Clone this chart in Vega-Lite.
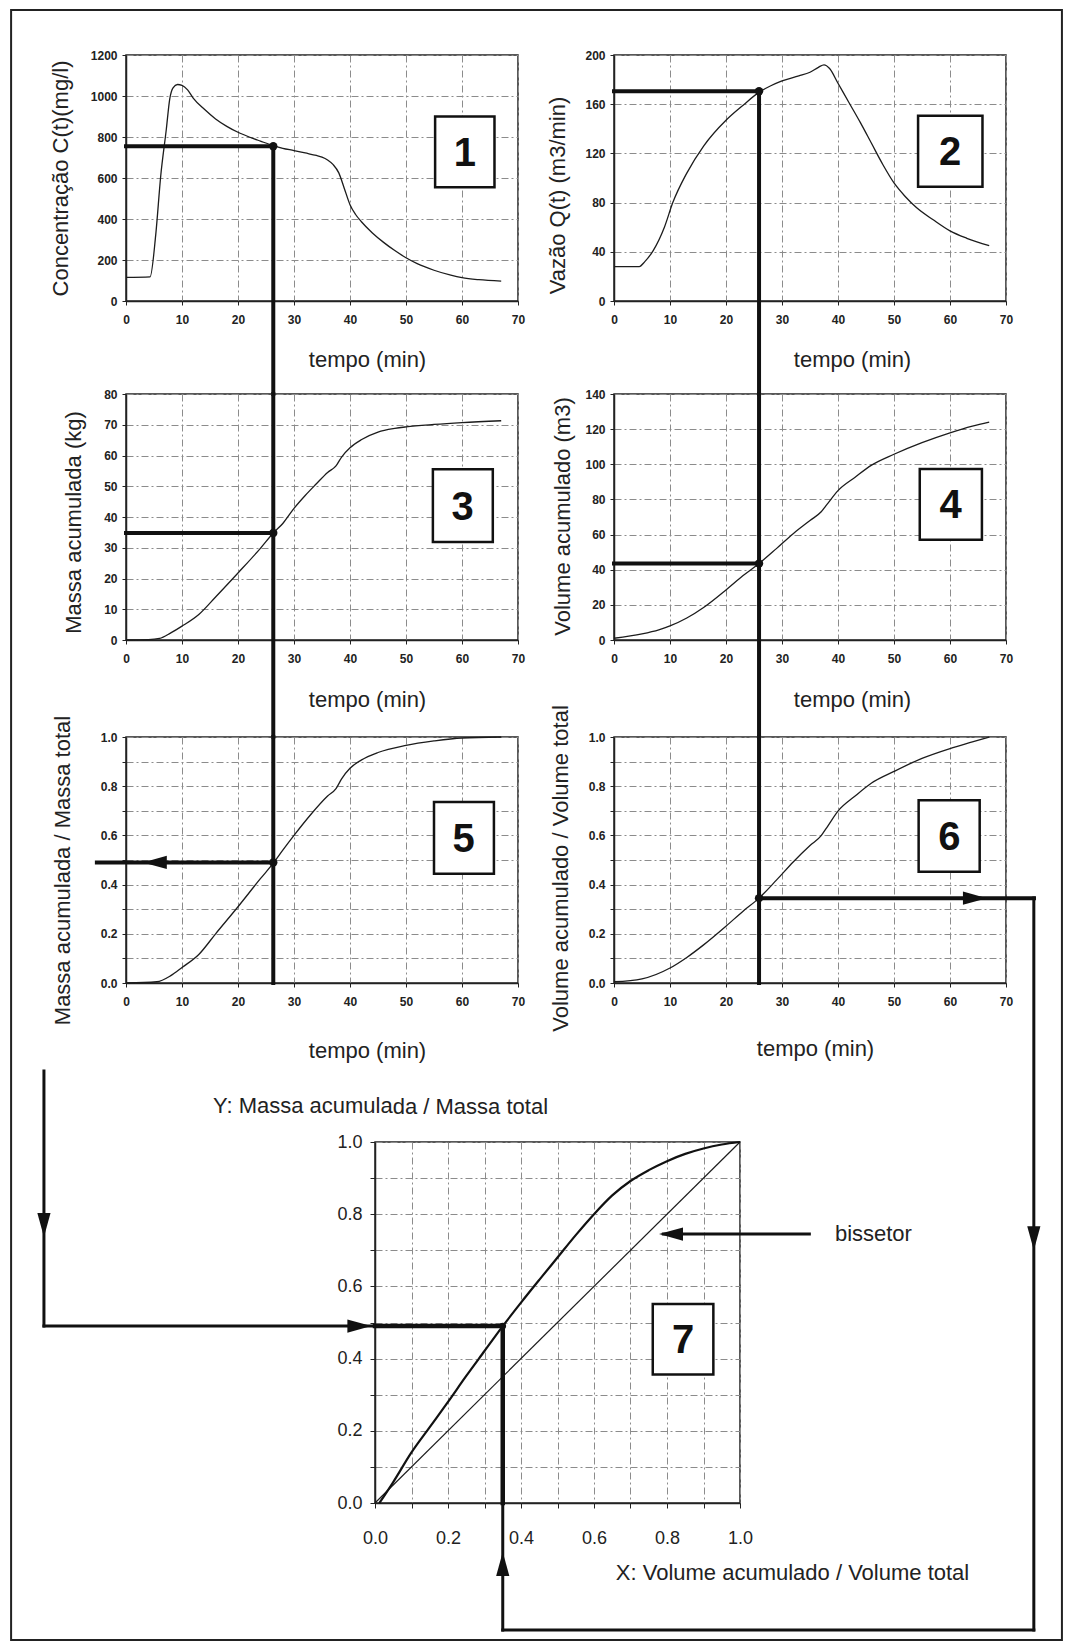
{
  "$schema": "https://vega.github.io/schema/vega-lite/v6.json",
  "background": "white",
  "padding": {"left": 9, "top": 8, "right": 0, "bottom": 0},
  "datasets": {
    "conc": [
      {"x": 0, "y": 115}, {"x": 4.3, "y": 118}, {"x": 5.3, "y": 320}, {"x": 6.2, "y": 610}, {"x": 7.2, "y": 838},
      {"x": 7.8, "y": 984}, {"x": 8.4, "y": 1040}, {"x": 9.2, "y": 1056}, {"x": 10, "y": 1052}, {"x": 11, "y": 1030},
      {"x": 12, "y": 990}, {"x": 14, "y": 935}, {"x": 16, "y": 888}, {"x": 18, "y": 852}, {"x": 20, "y": 823},
      {"x": 22, "y": 800}, {"x": 24, "y": 780}, {"x": 26.3, "y": 758}, {"x": 28, "y": 745}, {"x": 30, "y": 734},
      {"x": 32, "y": 722}, {"x": 34, "y": 710}, {"x": 35, "y": 702}, {"x": 36, "y": 688}, {"x": 37, "y": 665},
      {"x": 38, "y": 625}, {"x": 39, "y": 548}, {"x": 40, "y": 470}, {"x": 41, "y": 422}, {"x": 42, "y": 388},
      {"x": 44, "y": 332}, {"x": 46, "y": 286}, {"x": 48, "y": 246}, {"x": 50, "y": 211}, {"x": 52, "y": 182},
      {"x": 55, "y": 150}, {"x": 58, "y": 126}, {"x": 60, "y": 114}, {"x": 63, "y": 104}, {"x": 67, "y": 97}
    ],
    "vazao": [
      {"x": 0, "y": 28}, {"x": 4.5, "y": 28}, {"x": 5.5, "y": 32}, {"x": 7, "y": 41}, {"x": 9, "y": 60},
      {"x": 10.5, "y": 80}, {"x": 13, "y": 104}, {"x": 16, "y": 126}, {"x": 20, "y": 147}, {"x": 23, "y": 159},
      {"x": 26, "y": 170}, {"x": 28, "y": 175}, {"x": 30, "y": 179}, {"x": 33, "y": 183}, {"x": 35, "y": 186},
      {"x": 36.5, "y": 190}, {"x": 37.5, "y": 192}, {"x": 38.5, "y": 189}, {"x": 40, "y": 177}, {"x": 42, "y": 161},
      {"x": 44, "y": 145}, {"x": 46, "y": 128}, {"x": 48, "y": 111}, {"x": 50, "y": 96}, {"x": 52, "y": 85},
      {"x": 54, "y": 76}, {"x": 57, "y": 66}, {"x": 60, "y": 57}, {"x": 63, "y": 51}, {"x": 67, "y": 45}
    ],
    "massa": [
      {"x": 0, "y": 0}, {"x": 4, "y": 0.1}, {"x": 6, "y": 0.5}, {"x": 8, "y": 2.3}, {"x": 10, "y": 4.5},
      {"x": 13, "y": 8.3}, {"x": 16, "y": 14}, {"x": 20, "y": 21.8}, {"x": 24, "y": 29.8}, {"x": 26.3, "y": 34.8},
      {"x": 28, "y": 37.9}, {"x": 30, "y": 42.8}, {"x": 32, "y": 47}, {"x": 34, "y": 50.8}, {"x": 36, "y": 54.5},
      {"x": 37.5, "y": 56.6}, {"x": 38.5, "y": 59.5}, {"x": 40, "y": 62.5}, {"x": 42, "y": 65.1}, {"x": 45, "y": 67.6},
      {"x": 48, "y": 68.8}, {"x": 50, "y": 69.3}, {"x": 55, "y": 70.1}, {"x": 60, "y": 70.7}, {"x": 67, "y": 71.3}
    ],
    "volume": [
      {"x": 0, "y": 1}, {"x": 5, "y": 3.5}, {"x": 8, "y": 5.8}, {"x": 10, "y": 8}, {"x": 13, "y": 12.5},
      {"x": 16, "y": 18.5}, {"x": 20, "y": 28.5}, {"x": 23, "y": 36.5}, {"x": 25.9, "y": 43.5}, {"x": 29, "y": 52},
      {"x": 32, "y": 60.5}, {"x": 35, "y": 68}, {"x": 37, "y": 73}, {"x": 38, "y": 77}, {"x": 40, "y": 85},
      {"x": 43, "y": 92.5}, {"x": 46, "y": 99.5}, {"x": 50, "y": 105.7}, {"x": 55, "y": 112.3}, {"x": 60, "y": 117.9},
      {"x": 64, "y": 121.7}, {"x": 67, "y": 124}
    ],
    "massaRel": [
      {"x": 0, "y": 0}, {"x": 5.5, "y": 0.005}, {"x": 8, "y": 0.03}, {"x": 10, "y": 0.063}, {"x": 13, "y": 0.116},
      {"x": 16, "y": 0.2}, {"x": 20, "y": 0.31}, {"x": 24, "y": 0.424}, {"x": 26.3, "y": 0.487}, {"x": 28, "y": 0.54},
      {"x": 30, "y": 0.6}, {"x": 33, "y": 0.685}, {"x": 36, "y": 0.76}, {"x": 37.5, "y": 0.79}, {"x": 38.5, "y": 0.83},
      {"x": 40, "y": 0.873}, {"x": 42, "y": 0.906}, {"x": 45, "y": 0.937}, {"x": 50, "y": 0.966}, {"x": 55, "y": 0.984},
      {"x": 60, "y": 0.996}, {"x": 67, "y": 1.0}
    ],
    "volumeRel": [
      {"x": 0, "y": 0.005}, {"x": 5, "y": 0.017}, {"x": 10, "y": 0.061}, {"x": 13, "y": 0.104}, {"x": 16, "y": 0.155},
      {"x": 20, "y": 0.231}, {"x": 23, "y": 0.291}, {"x": 25.9, "y": 0.345}, {"x": 29, "y": 0.418}, {"x": 32, "y": 0.492},
      {"x": 35, "y": 0.559}, {"x": 37, "y": 0.599}, {"x": 38, "y": 0.632}, {"x": 40, "y": 0.699}, {"x": 43, "y": 0.759},
      {"x": 46, "y": 0.813}, {"x": 50, "y": 0.86}, {"x": 55, "y": 0.913}, {"x": 60, "y": 0.953}, {"x": 64, "y": 0.98},
      {"x": 67, "y": 1.0}
    ],
    "curvaMV": [
      {"x": 0.012, "y": 0}, {"x": 0.05, "y": 0.058}, {"x": 0.1, "y": 0.14}, {"x": 0.15, "y": 0.21}, {"x": 0.2, "y": 0.28},
      {"x": 0.25, "y": 0.352}, {"x": 0.3, "y": 0.421}, {"x": 0.35, "y": 0.49}, {"x": 0.4, "y": 0.555}, {"x": 0.45, "y": 0.618},
      {"x": 0.5, "y": 0.68}, {"x": 0.55, "y": 0.742}, {"x": 0.6, "y": 0.8}, {"x": 0.65, "y": 0.852}, {"x": 0.7, "y": 0.892},
      {"x": 0.75, "y": 0.922}, {"x": 0.8, "y": 0.947}, {"x": 0.85, "y": 0.967}, {"x": 0.9, "y": 0.982}, {"x": 0.95, "y": 0.993},
      {"x": 1.0, "y": 1.0}
    ],
    "bissetriz": [{"x": 0, "y": 0}, {"x": 1, "y": 1}],
    "seg1": [{"x": 0, "y": 755, "x2": 26.3, "y2": 755}, {"x": 26.3, "y": 755, "x2": 26.3, "y2": -454}],
    "seg2": [{"x": 0, "y": 170.5, "x2": 25.9, "y2": 170.5}, {"x": 25.9, "y": 170.5, "x2": 25.9, "y2": -75.6}],
    "seg3": [{"x": 0, "y": 34.8, "x2": 26.3, "y2": 34.8}, {"x": 26.3, "y": 80, "x2": 26.3, "y2": -31.5}],
    "seg4": [{"x": 0, "y": 43.5, "x2": 25.9, "y2": 43.5}, {"x": 25.9, "y": 140, "x2": 25.9, "y2": -55.2}],
    "seg5": [{"x": 26.3, "y": 1, "x2": 26.3, "y2": 0}, {"x": 26.3, "y": 0.49, "x2": -5.2, "y2": 0.49}],
    "seg6": [{"x": 25.9, "y": 1, "x2": 25.9, "y2": 0}, {"x": 25.9, "y": 0.345, "x2": 75, "y2": 0.345}],
    "seg7": [{"x": 0, "y": 0.49, "x2": 0.35, "y2": 0.49}, {"x": 0.35, "y": 0.49, "x2": 0.35, "y2": 0}],
    "via7": [
      {"x": -0.907, "y": 1.197, "x2": -0.907, "y2": 0.49},
      {"x": -0.907, "y": 0.49, "x2": 0, "y2": 0.49},
      {"x": 0.35, "y": 0, "x2": 0.35, "y2": -0.352},
      {"x": 0.35, "y": -0.352, "x2": 1.805, "y2": -0.352},
      {"x": 1.805, "y": -0.352, "x2": 1.805, "y2": 1.6756},
      {"x": 1.19, "y": 0.745, "x2": 0.79, "y2": 0.745}
    ],
    "dot1": [{"x": 26.3, "y": 755}],
    "dot2": [{"x": 25.9, "y": 170.5}],
    "dot3": [{"x": 26.3, "y": 34.8}],
    "dot4": [{"x": 25.9, "y": 43.5}],
    "dot5": [{"x": 26.3, "y": 0.49}],
    "dot6": [{"x": 25.9, "y": 0.345}],
    "dot7": [{"x": 0.35, "y": 0.49}],
    "box1": [{"x": 55.2, "x2": 65.8, "y": 555, "y2": 900, "cx": 60.5, "cy": 727, "label": "1"}],
    "box2": [{"x": 54.3, "x2": 65.8, "y": 92.8, "y2": 150.6, "cx": 60, "cy": 121.7, "label": "2"}],
    "box3": [{"x": 54.8, "x2": 65.5, "y": 31.9, "y2": 55.5, "cx": 60.1, "cy": 43.7, "label": "3"}],
    "box4": [{"x": 54.6, "x2": 65.7, "y": 57.1, "y2": 97.3, "cx": 60.1, "cy": 77.2, "label": "4"}],
    "box5": [{"x": 55, "x2": 65.7, "y": 0.444, "y2": 0.736, "cx": 60.3, "cy": 0.59, "label": "5"}],
    "box6": [{"x": 54.4, "x2": 65.3, "y": 0.452, "y2": 0.743, "cx": 59.9, "cy": 0.598, "label": "6"}],
    "box7": [{"x": 0.761, "x2": 0.927, "y": 0.356, "y2": 0.551, "cx": 0.844, "cy": 0.453, "label": "7"}],
    "ponta5": [{"x": 3.0, "y": 0.49}],
    "ponta6": [{"x": 66.6, "y": 0.345}],
    "ponta7baixo": [{"x": -0.907, "y": 0.737}, {"x": 1.805, "y": 0.70}],
    "ponta7dir": [{"x": -0.01, "y": 0.49}],
    "ponta7cima": [{"x": 0.35, "y": -0.136}],
    "ponta7esq": [{"x": 0.778, "y": 0.745}],
    "nota7": [{"x": 1.26, "y": 0.745, "label": "bissetor"}],
    "moldura": [{"x": -0.997, "x2": 1.882, "y": -0.3795, "y2": 4.136}]
  },
  "columns": 3,
  "align": {"row": "each", "column": "none"},
  "bounds": "flush",
  "spacing": {"row": 93, "column": -143},
  "concat": [
    {
      "width": 392, "height": 246,
      "encoding": {
        "x": {"field": "x", "type": "quantitative", "scale": {"domain": [0, 70], "nice": false, "zero": false},
              "axis": {"values": [0, 10, 20, 30, 40, 50, 60, 70], "title": "tempo (min)", "titleX": 241, "titleY": 58}},
        "y": {"field": "y", "type": "quantitative", "scale": {"domain": [0, 1200], "nice": false, "zero": false},
              "axis": {"values": [0, 200, 400, 600, 800, 1000, 1200], "format": "d", "title": "Concentração C(t)(mg/l)", "titleX": -66, "titleY": 123}}
      },
      "layer": [
        {"data": {"name": "conc"}, "mark": {"type": "line", "color": "#1c1c1c", "strokeWidth": 1.3, "interpolate": "monotone"}},
        {"data": {"name": "seg1"}, "mark": {"type": "rule", "color": "#111", "strokeWidth": 4, "strokeCap": "square", "clip": false},
         "encoding": {"x2": {"field": "x2"}, "y2": {"field": "y2"}}},
        {"data": {"name": "dot1"}, "mark": {"type": "point", "filled": true, "color": "#111", "size": 70, "opacity": 1}},
        {"data": {"name": "box1"}, "mark": {"type": "rect", "fill": "white", "stroke": "#111", "strokeWidth": 2.5},
         "encoding": {"x2": {"field": "x2"}, "y2": {"field": "y2"}}},
        {"data": {"name": "box1"}, "mark": {"type": "text", "font": "Liberation Sans", "fontSize": 40, "fontWeight": "bold", "color": "#111", "align": "center", "baseline": "middle", "dy": 2},
         "encoding": {"x": {"field": "cx", "type": "quantitative"}, "y": {"field": "cy", "type": "quantitative"}, "text": {"field": "label"}}}
      ]
    },
    {"width": 382, "height": 246, "view": {"stroke": null}, "data": {"values": [{}]}, "mark": {"type": "point", "opacity": 0}, "encoding": {}},
    {
      "width": 392, "height": 246,
      "encoding": {
        "x": {"field": "x", "type": "quantitative", "scale": {"domain": [0, 70], "nice": false, "zero": false},
              "axis": {"values": [0, 10, 20, 30, 40, 50, 60, 70], "title": "tempo (min)", "titleX": 238, "titleY": 58}},
        "y": {"field": "y", "type": "quantitative", "scale": {"domain": [0, 200], "nice": false, "zero": false},
              "axis": {"values": [0, 40, 80, 120, 160, 200], "title": "Vazão Q(t) (m3/min)", "titleX": -57, "titleY": 140}}
      },
      "layer": [
        {"data": {"name": "vazao"}, "mark": {"type": "line", "color": "#1c1c1c", "strokeWidth": 1.3, "interpolate": "monotone"}},
        {"data": {"name": "seg2"}, "mark": {"type": "rule", "color": "#111", "strokeWidth": 4, "strokeCap": "square", "clip": false},
         "encoding": {"x2": {"field": "x2"}, "y2": {"field": "y2"}}},
        {"data": {"name": "dot2"}, "mark": {"type": "point", "filled": true, "color": "#111", "size": 70, "opacity": 1}},
        {"data": {"name": "box2"}, "mark": {"type": "rect", "fill": "white", "stroke": "#111", "strokeWidth": 2.5},
         "encoding": {"x2": {"field": "x2"}, "y2": {"field": "y2"}}},
        {"data": {"name": "box2"}, "mark": {"type": "text", "font": "Liberation Sans", "fontSize": 40, "fontWeight": "bold", "color": "#111", "align": "center", "baseline": "middle", "dy": 2},
         "encoding": {"x": {"field": "cx", "type": "quantitative"}, "y": {"field": "cy", "type": "quantitative"}, "text": {"field": "label"}}}
      ]
    },
    {
      "width": 392, "height": 246,
      "encoding": {
        "x": {"field": "x", "type": "quantitative", "scale": {"domain": [0, 70], "nice": false, "zero": false},
              "axis": {"values": [0, 10, 20, 30, 40, 50, 60, 70], "title": "tempo (min)", "titleX": 241, "titleY": 59}},
        "y": {"field": "y", "type": "quantitative", "scale": {"domain": [0, 80], "nice": false, "zero": false},
              "axis": {"values": [0, 10, 20, 30, 40, 50, 60, 70, 80], "title": "Massa acumulada (kg)", "titleX": -53, "titleY": 128}}
      },
      "layer": [
        {"data": {"name": "massa"}, "mark": {"type": "line", "color": "#1c1c1c", "strokeWidth": 1.3, "interpolate": "monotone"}},
        {"data": {"name": "seg3"}, "mark": {"type": "rule", "color": "#111", "strokeWidth": 4, "strokeCap": "square", "clip": false},
         "encoding": {"x2": {"field": "x2"}, "y2": {"field": "y2"}}},
        {"data": {"name": "dot3"}, "mark": {"type": "point", "filled": true, "color": "#111", "size": 70, "opacity": 1}},
        {"data": {"name": "box3"}, "mark": {"type": "rect", "fill": "white", "stroke": "#111", "strokeWidth": 2.5},
         "encoding": {"x2": {"field": "x2"}, "y2": {"field": "y2"}}},
        {"data": {"name": "box3"}, "mark": {"type": "text", "font": "Liberation Sans", "fontSize": 40, "fontWeight": "bold", "color": "#111", "align": "center", "baseline": "middle", "dy": 2},
         "encoding": {"x": {"field": "cx", "type": "quantitative"}, "y": {"field": "cy", "type": "quantitative"}, "text": {"field": "label"}}}
      ]
    },
    {"width": 382, "height": 250, "view": {"stroke": null}, "data": {"values": [{}]}, "mark": {"type": "point", "opacity": 0}, "encoding": {}},
    {
      "width": 392, "height": 246,
      "encoding": {
        "x": {"field": "x", "type": "quantitative", "scale": {"domain": [0, 70], "nice": false, "zero": false},
              "axis": {"values": [0, 10, 20, 30, 40, 50, 60, 70], "title": "tempo (min)", "titleX": 238, "titleY": 59}},
        "y": {"field": "y", "type": "quantitative", "scale": {"domain": [0, 140], "nice": false, "zero": false},
              "axis": {"values": [0, 20, 40, 60, 80, 100, 120, 140], "title": "Volume acumulado (m3)", "titleX": -52, "titleY": 122}}
      },
      "layer": [
        {"data": {"name": "volume"}, "mark": {"type": "line", "color": "#1c1c1c", "strokeWidth": 1.3, "interpolate": "monotone"}},
        {"data": {"name": "seg4"}, "mark": {"type": "rule", "color": "#111", "strokeWidth": 4, "strokeCap": "square", "clip": false},
         "encoding": {"x2": {"field": "x2"}, "y2": {"field": "y2"}}},
        {"data": {"name": "dot4"}, "mark": {"type": "point", "filled": true, "color": "#111", "size": 70, "opacity": 1}},
        {"data": {"name": "box4"}, "mark": {"type": "rect", "fill": "white", "stroke": "#111", "strokeWidth": 2.5},
         "encoding": {"x2": {"field": "x2"}, "y2": {"field": "y2"}}},
        {"data": {"name": "box4"}, "mark": {"type": "text", "font": "Liberation Sans", "fontSize": 40, "fontWeight": "bold", "color": "#111", "align": "center", "baseline": "middle", "dy": 2},
         "encoding": {"x": {"field": "cx", "type": "quantitative"}, "y": {"field": "cy", "type": "quantitative"}, "text": {"field": "label"}}}
      ]
    },
    {
      "width": 392, "height": 246,
      "encoding": {
        "x": {"field": "x", "type": "quantitative", "scale": {"domain": [0, 70], "nice": false, "zero": false},
              "axis": {"values": [0, 10, 20, 30, 40, 50, 60, 70], "title": "tempo (min)", "titleX": 241, "titleY": 67}},
        "y": {"field": "y", "type": "quantitative", "scale": {"domain": [0, 1], "nice": false, "zero": false},
              "axis": {"values": [0, 0.1, 0.2, 0.3, 0.4, 0.5, 0.6, 0.7, 0.8, 0.9, 1.0],
                       "labelExpr": "round(datum.value * 10) % 2 == 0 ? format(datum.value, '.1f') : ''",
                       "title": "Massa acumulada / Massa total", "titleX": -64, "titleY": 133}}
      },
      "layer": [
        {"data": {"name": "massaRel"}, "mark": {"type": "line", "color": "#1c1c1c", "strokeWidth": 1.3, "interpolate": "monotone"}},
        {"data": {"name": "seg5"}, "mark": {"type": "rule", "color": "#111", "strokeWidth": 4, "strokeCap": "square", "clip": false},
         "encoding": {"x2": {"field": "x2"}, "y2": {"field": "y2"}}},
        {"data": {"name": "ponta5"}, "mark": {"type": "point", "filled": true, "color": "#111", "opacity": 1, "size": 576, "shape": "M0,0L2,-0.55L2,0.55Z", "clip": false}},
        {"data": {"name": "dot5"}, "mark": {"type": "point", "filled": true, "color": "#111", "size": 70, "opacity": 1}},
        {"data": {"name": "box5"}, "mark": {"type": "rect", "fill": "white", "stroke": "#111", "strokeWidth": 2.5},
         "encoding": {"x2": {"field": "x2"}, "y2": {"field": "y2"}}},
        {"data": {"name": "box5"}, "mark": {"type": "text", "font": "Liberation Sans", "fontSize": 40, "fontWeight": "bold", "color": "#111", "align": "center", "baseline": "middle", "dy": 2},
         "encoding": {"x": {"field": "cx", "type": "quantitative"}, "y": {"field": "cy", "type": "quantitative"}, "text": {"field": "label"}}}
      ]
    },
    {"width": 382, "height": 312, "view": {"stroke": null}, "data": {"values": [{}]}, "mark": {"type": "point", "opacity": 0}, "encoding": {}},
    {
      "width": 392, "height": 246,
      "encoding": {
        "x": {"field": "x", "type": "quantitative", "scale": {"domain": [0, 70], "nice": false, "zero": false},
              "axis": {"values": [0, 10, 20, 30, 40, 50, 60, 70], "title": "tempo (min)", "titleX": 201, "titleY": 65}},
        "y": {"field": "y", "type": "quantitative", "scale": {"domain": [0, 1], "nice": false, "zero": false},
              "axis": {"values": [0, 0.1, 0.2, 0.3, 0.4, 0.5, 0.6, 0.7, 0.8, 0.9, 1.0],
                       "labelExpr": "round(datum.value * 10) % 2 == 0 ? format(datum.value, '.1f') : ''",
                       "title": "Volume acumulado / Volume total", "titleX": -54, "titleY": 131}}
      },
      "layer": [
        {"data": {"name": "volumeRel"}, "mark": {"type": "line", "color": "#1c1c1c", "strokeWidth": 1.3, "interpolate": "monotone"}},
        {"data": {"name": "seg6"}, "mark": {"type": "rule", "color": "#111", "strokeWidth": 4, "strokeCap": "square", "clip": false},
         "encoding": {"x2": {"field": "x2"}, "y2": {"field": "y2"}}},
        {"data": {"name": "ponta6"}, "mark": {"type": "point", "filled": true, "color": "#111", "opacity": 1, "size": 576, "shape": "M0,0L-2,-0.55L-2,0.55Z", "clip": false}},
        {"data": {"name": "dot6"}, "mark": {"type": "point", "filled": true, "color": "#111", "size": 70, "opacity": 1}},
        {"data": {"name": "box6"}, "mark": {"type": "rect", "fill": "white", "stroke": "#111", "strokeWidth": 2.5},
         "encoding": {"x2": {"field": "x2"}, "y2": {"field": "y2"}}},
        {"data": {"name": "box6"}, "mark": {"type": "text", "font": "Liberation Sans", "fontSize": 40, "fontWeight": "bold", "color": "#111", "align": "center", "baseline": "middle", "dy": 2},
         "encoding": {"x": {"field": "cx", "type": "quantitative"}, "y": {"field": "cy", "type": "quantitative"}, "text": {"field": "label"}}}
      ]
    },
    {"width": 392, "height": 1, "view": {"stroke": null}, "data": {"values": [{}]}, "mark": {"type": "point", "opacity": 0}, "encoding": {}},
    {
      "width": 365, "height": 361,
      "encoding": {
        "x": {"field": "x", "type": "quantitative", "scale": {"domain": [0, 1], "nice": false, "zero": false},
              "axis": {"values": [0, 0.1, 0.2, 0.3, 0.4, 0.5, 0.6, 0.7, 0.8, 0.9, 1.0],
                       "labelExpr": "round(datum.value * 10) % 2 == 0 ? format(datum.value, '.1f') : ''",
                       "labelFontSize": 18, "labelFontWeight": "normal", "labelPadding": 21, "tickSize": 5,
                       "title": "X: Volume  acumulado / Volume total", "titleX": 417, "titleY": 69}},
        "y": {"field": "y", "type": "quantitative", "scale": {"domain": [0, 1], "nice": false, "zero": false},
              "axis": {"values": [0, 0.1, 0.2, 0.3, 0.4, 0.5, 0.6, 0.7, 0.8, 0.9, 1.0],
                       "labelExpr": "round(datum.value * 10) % 2 == 0 ? format(datum.value, '.1f') : ''",
                       "labelFontSize": 18, "labelFontWeight": "normal", "labelPadding": 8, "tickSize": 5,
                       "title": "Y: Massa acumulada / Massa total", "titleAngle": 0.01, "titleX": 5, "titleY": -36}}
      },
      "layer": [
        {"data": {"name": "moldura"}, "mark": {"type": "rect", "filled": false, "color": "#222", "strokeWidth": 2, "clip": false},
         "encoding": {"x2": {"field": "x2"}, "y2": {"field": "y2"}}},
        {"data": {"name": "bissetriz"}, "mark": {"type": "line", "color": "#1c1c1c", "strokeWidth": 1.2}},
        {"data": {"name": "curvaMV"}, "mark": {"type": "line", "color": "#111", "strokeWidth": 2.2, "interpolate": "monotone"}},
        {"data": {"name": "via7"}, "mark": {"type": "rule", "color": "#111", "strokeWidth": 3, "strokeCap": "square", "clip": false},
         "encoding": {"x2": {"field": "x2"}, "y2": {"field": "y2"}}},
        {"data": {"name": "seg7"}, "mark": {"type": "rule", "color": "#111", "strokeWidth": 4.5, "strokeCap": "square", "clip": false},
         "encoding": {"x2": {"field": "x2"}, "y2": {"field": "y2"}}},
        {"data": {"name": "ponta7baixo"}, "mark": {"type": "point", "filled": true, "color": "#111", "opacity": 1, "size": 576, "shape": "M0,0L-0.55,-2L0.55,-2Z", "clip": false}},
        {"data": {"name": "ponta7dir"}, "mark": {"type": "point", "filled": true, "color": "#111", "opacity": 1, "size": 576, "shape": "M0,0L-2,-0.55L-2,0.55Z", "clip": false}},
        {"data": {"name": "ponta7cima"}, "mark": {"type": "point", "filled": true, "color": "#111", "opacity": 1, "size": 576, "shape": "M0,0L-0.55,2L0.55,2Z", "clip": false}},
        {"data": {"name": "ponta7esq"}, "mark": {"type": "point", "filled": true, "color": "#111", "opacity": 1, "size": 576, "shape": "M0,0L2,-0.55L2,0.55Z", "clip": false}},
        {"data": {"name": "dot7"}, "mark": {"type": "point", "filled": true, "color": "#111", "size": 45, "opacity": 1}},
        {"data": {"name": "box7"}, "mark": {"type": "rect", "fill": "white", "stroke": "#111", "strokeWidth": 2.5},
         "encoding": {"x2": {"field": "x2"}, "y2": {"field": "y2"}}},
        {"data": {"name": "box7"}, "mark": {"type": "text", "font": "Liberation Sans", "fontSize": 40, "fontWeight": "bold", "color": "#111", "align": "center", "baseline": "middle", "dy": 2},
         "encoding": {"x": {"field": "cx", "type": "quantitative"}, "y": {"field": "cy", "type": "quantitative"}, "text": {"field": "label"}}},
        {"data": {"name": "nota7"}, "mark": {"type": "text", "font": "Liberation Sans", "fontSize": 22, "color": "#222", "align": "left", "baseline": "middle", "clip": false},
         "encoding": {"text": {"field": "label"}}}
      ]
    }
  ],
  "config": {
    "font": "Liberation Sans",
    "view": {"stroke": "#222", "strokeWidth": 1.5},
    "axis": {
      "domainColor": "#222", "domainWidth": 1.5,
      "tickColor": "#222", "tickSize": 4,
      "labelFont": "Liberation Sans", "labelFontSize": 12, "labelFontWeight": "bold", "labelColor": "#222",
      "titleFont": "Liberation Sans", "titleFontSize": 22, "titleFontWeight": "normal", "titleColor": "#222",
      "grid": true, "gridColor": "#8c8c8c", "gridDash": [7, 3, 2, 3], "gridWidth": 1, "gridOpacity": 1
    },
    "axisX": {"labelPadding": 9, "labelFlush": false, "labelOverlap": false, "titleAlign": "center", "titleBaseline": "middle"},
    "axisY": {"labelPadding": 5, "labelOverlap": false, "titleAlign": "center", "titleBaseline": "middle"}
  }
}
